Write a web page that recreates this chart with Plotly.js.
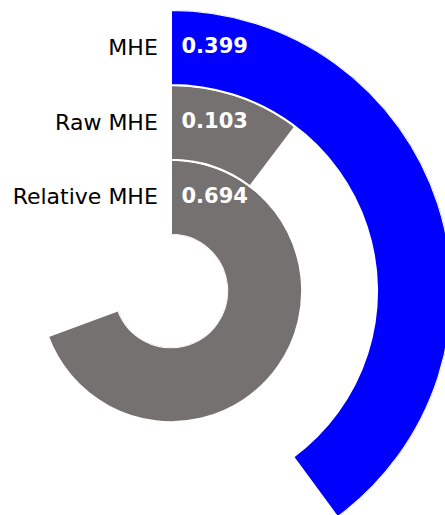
<!DOCTYPE html>
<html>
<head>
<meta charset="utf-8">
<script src="https://cdn.plot.ly/plotly-3.0.1.min.js"></script>
<style>
html, body { margin:0; padding:0; width:445px; height:515px; overflow:hidden; background:#fff; }
#chart { position:absolute; left:-110px; top:10px; width:562px; height:562px; }
</style>
</head>
<body>
<div id="chart"></div>
<script>
// inner ring to outer ring
const categories = ['Relative MHE', 'Raw MHE', 'MHE'];
const values = [0.694, 0.103, 0.399];
const barColors = ['#767171', '#767171', '#0000ff'];
const valueLabels = ['0.694', '0.103', '0.399'];

const ringIdx = categories.map((_, i) => i);
const bars = {
  type: 'barpolar',
  base: ringIdx,
  r: categories.map(() => 1),
  theta: values.map(v => v * 180),
  width: values.map(v => v * 360),
  marker: { color: barColors, line: { color: '#ffffff', width: 2 } },
  hoverinfo: 'skip'
};
const labels = {
  type: 'scatterpolar',
  mode: 'text',
  r: ringIdx.map(i => i + 0.5),
  theta: categories.map(() => 0),
  text: valueLabels.map(t => '\u2002' + t),
  textposition: 'middle right',
  textfont: { family: 'DejaVu Sans', size: 21, color: '#ffffff', weight: 'bold' },
  cliponaxis: false,
  hoverinfo: 'skip'
};
const layout = {
  width: 562, height: 562,
  margin: { l: 0, r: 0, t: 0, b: 0, pad: 0 },
  paper_bgcolor: '#ffffff',
  showlegend: false,
  font: { family: 'DejaVu Sans', color: '#000000' },
  polar: {
    domain: { x: [0, 1], y: [0, 1] },
    hole: 0.2,
    bgcolor: 'rgba(0,0,0,0)',
    angularaxis: { visible: false, rotation: 90, direction: 'clockwise', showgrid: false },
    radialaxis: {
      range: [0, 3], angle: 90, side: 'counterclockwise',
      showgrid: false, showline: false, tickangle: 90,
      tickvals: ringIdx.map(i => i + 0.5), ticktext: categories,
      ticks: 'outside', ticklen: 5, tickcolor: 'rgba(0,0,0,0)',
      tickfont: { family: 'DejaVu Sans', size: 22, color: '#000000' }
    }
  }
};
Plotly.newPlot('chart', [bars, labels], layout, { displayModeBar: false, staticPlot: true });
</script>
</body>
</html>
